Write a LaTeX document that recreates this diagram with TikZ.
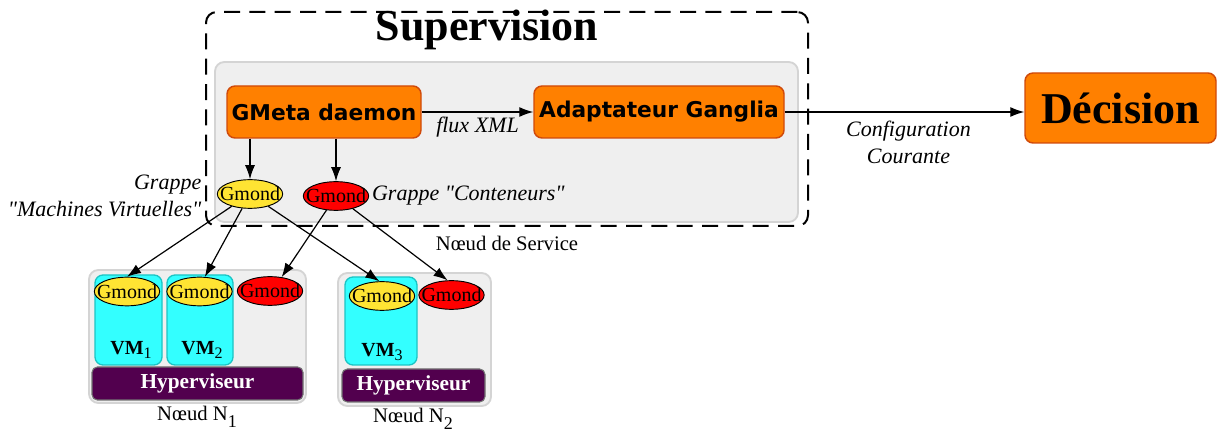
\documentclass[tikz,border=0pt]{standalone}
\usepackage{fontspec}
\setmainfont{Liberation Serif}
\newfontfamily\boxsans{DejaVu Sans}
\usetikzlibrary{arrows.meta,fit,shapes.geometric,positioning}
\definecolor{orangefill}{RGB}{255,128,0}
\definecolor{orangeedge}{RGB}{208,74,10}
\definecolor{panelfill}{RGB}{239,239,239}
\definecolor{paneledge}{RGB}{212,212,212}
\definecolor{vmfill}{RGB}{51,255,255}
\definecolor{vmedge}{RGB}{28,196,196}
\definecolor{gmyellow}{RGB}{255,228,51}
\definecolor{hypfill}{RGB}{82,0,78}
\newcommand{\vmsub}[1]{\raisebox{-3pt}{\fontsize{12}{12}\selectfont\mdseries #1}}
\newcommand{\nsub}[1]{\raisebox{-5pt}{\fontsize{13.5}{13.5}\selectfont #1}}
\begin{document}
\begin{tikzpicture}[x=0.75pt,y=-0.75pt,
	panel/.style={draw=paneledge,fill=panelfill,line width=1.4pt,rounded corners=7pt,inner sep=0pt},
	obox/.style={rectangle,draw=orangeedge,fill=orangefill,line width=1.1pt,rounded corners=6pt,inner sep=0pt},
	vmbox/.style={draw=vmedge,fill=vmfill,line width=1pt,rounded corners=6pt,inner sep=0pt},
	hypbox/.style={rectangle,draw=black!55,fill=hypfill,line width=0.8pt,rounded corners=4pt,inner sep=0pt,
		minimum height=24.75pt,text=white,font=\bfseries\fontsize{16}{16}\selectfont},
	gmond/.style={ellipse,draw,line width=0.7pt,minimum width=49pt,minimum height=21.5pt,inner sep=0pt,
		font=\fontsize{15}{15}\selectfont},
	lbl/.style={font=\itshape\fontsize{16.5}{20}\selectfont},
	txt/.style={font=\fontsize{15.5}{15.5}\selectfont},
	vmlbl/.style={font=\bfseries\fontsize{15}{15}\selectfont},
	arr/.style={-{Latex[length=10.5pt,width=7.5pt]},line width=0.9pt}]
	\useasboundingbox (0,0) rectangle (1218,434);
	% supervision
	\node[draw,dashed,dash pattern=on 12pt off 7pt,line width=1.5pt,rounded corners=8pt,inner sep=0pt,
		fit={(206,12) (808,226)}] (superv) {};
	\node[panel,fit={(215,62) (798,222)}] (service) {};
	\node[font=\bfseries\fontsize{33}{33}\selectfont] (tsup) at (487,30) {Supervision};
	\node[txt] (tsvc) at (507,243) {Nœud de Service};
	\node[obox,minimum width=145.5pt,minimum height=39pt,font=\boxsans\bfseries\fontsize{16.3}{16.3}\selectfont]
		(gmeta) at (324,112) {GMeta daemon};
	\node[obox,minimum width=187.5pt,minimum height=39pt,font=\boxsans\bfseries\fontsize{16.3}{16.3}\selectfont]
		(adapt) at (659,112) {Adaptateur Ganglia};
	\node[obox,minimum width=143.25pt,minimum height=52.5pt,font=\bfseries\fontsize{33}{33}\selectfont]
		(decision) at (1120.5,108) {Décision};
	\draw[arr] (gmeta) -- (adapt) node[lbl,midway,below=0pt] {flux XML};
	\draw[arr] (adapt.east) -- (adapt.east -| decision.west)
		node[lbl,midway,below=3pt,xshift=3pt,align=center] {Configuration\\Courante};
	\node[gmond,fill=gmyellow] (gvm) at (250,194) {\makebox[0pt]{Gmond}};
	\node[gmond,fill=red] (gct) at (336,196) {\makebox[0pt]{Gmond}};
	\draw[arr] (gmeta.south -| gvm) -- (gvm);
	\draw[arr] (gmeta.south -| gct) -- (gct);
	\node[lbl,anchor=east,align=right] (tvm) at (206,196) {Grappe\\\textquotedbl Machines Virtuelles\textquotedbl};
	\node[lbl,anchor=west,inner sep=2pt] (tct) at (gct.east) {Grappe \textquotedbl Conteneurs\textquotedbl};
	% noeud 1
	\node[panel,fit={(89,270) (306,403)}] (node1) {};
	\node[vmbox,fit={(95,275) (162,365)}] (vm1) {};
	\node[vmbox,fit={(167,275) (233,365)}] (vm2) {};
	\node[gmond,fill=gmyellow] (vm1g) at (127,291.5) {\makebox[0pt]{Gmond}};
	\node[gmond,fill=gmyellow] (vm2g) at (199.5,291.5) {\makebox[0pt]{Gmond}};
	\node[gmond,fill=red] (n1c) at (270,291) {\makebox[0pt]{Gmond}};
	\node[vmlbl] (tvm1) at (131,350) {VM\vmsub{1}};
	\node[vmlbl] (tvm2) at (202,350) {VM\vmsub{2}};
	\node[hypbox,minimum width=158.25pt] (hyp1) at (197.5,383.5) {Hyperviseur};
	\node[txt] (tn1) at (197,417) {Nœud N\nsub{1}};
	% noeud 2
	\node[panel,fit={(338,273) (491,406)}] (node2) {};
	\node[vmbox,fit={(345,277) (417,365)}] (vm3) {};
	\node[gmond,fill=gmyellow] (vm3g) at (382,296) {\makebox[0pt]{Gmond}};
	\node[gmond,fill=red] (n2c) at (451.5,295) {\makebox[0pt]{Gmond}};
	\node[vmlbl] (tvm3) at (382,352) {VM\vmsub{3}};
	\node[hypbox,minimum width=107.25pt] (hyp2) at (413.5,385.5) {Hyperviseur};
	\node[txt] (tn2) at (413,419) {Nœud N\nsub{2}};
	% grappes
	\draw[arr] (gvm) -- (vm1g.north);
	\draw[arr] (gvm) -- (vm2g.70);
	\draw[arr] (gvm) -- (vm3g.100);
	\draw[arr] (gct) -- (n1c.50);
	\draw[arr] (gct) -- (n2c.105);
\end{tikzpicture}
\end{document}
